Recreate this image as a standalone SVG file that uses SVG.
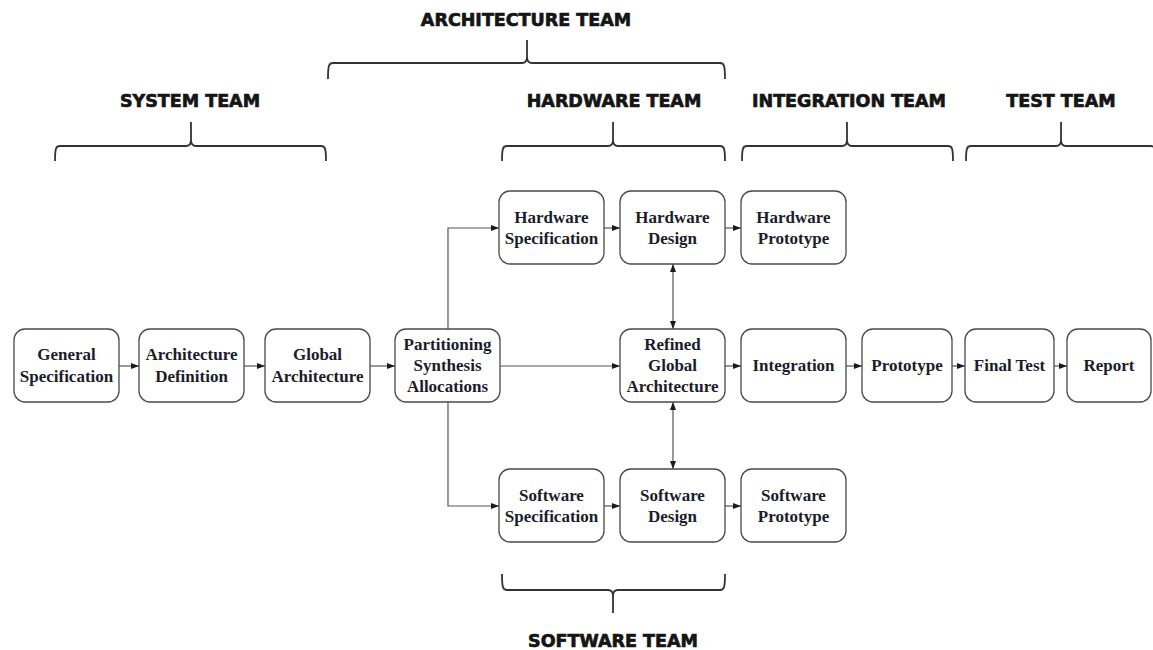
<svg xmlns="http://www.w3.org/2000/svg" width="1153" height="650" viewBox="0 0 1153 650">
  <style>
    .box { fill: #ffffff; stroke: #4a4a4a; stroke-width: 1.3; }
    .lbl { font-family: "Liberation Serif", "Times New Roman", serif; font-weight: bold; font-size: 17px; fill: #1c1c2a; text-anchor: middle; }
    .team { font-family: "DejaVu Sans", "Liberation Sans", sans-serif; font-weight: bold; font-size: 17.5px; fill: #151515; stroke: #151515; stroke-width: 0.7; text-anchor: middle; }
    .brace { fill: none; stroke: #333333; stroke-width: 1.8; stroke-linejoin: round; }
    .wire { fill: none; stroke: #555555; stroke-width: 1.2; }
  </style>
  <defs>
    <marker id="arrow" viewBox="0 0 8 6" refX="8" refY="3" markerWidth="8" markerHeight="6" markerUnits="userSpaceOnUse" orient="auto-start-reverse">
      <path d="M0,0 L8,3 L0,6 Z" fill="#1a1a1a"/>
    </marker>
  </defs>

  <rect width="1153" height="650" fill="#ffffff"/>

  <!-- team braces -->
  <g id="braces">
    <path class="brace" d="M328,79 C328,65 329,63 333,63 L522,63 C526,63 527,61 527,57 L527,40 M527,57 C527,61 528,63 532,63 L720,63 C724,63 725,65 725,79"/>
    <path class="brace" d="M55,161 C55,148 56,146 60,146 L186,146 C190,146 191,144 191,140 L191,122 M191,140 C191,144 192,146 196,146 L321,146 C325,146 326,148 326,161"/>
    <path class="brace" d="M502,161 C502,148 503,146 507,146 L608,146 C612,146 613,144 613,140 L613,122 M613,140 C613,144 614,146 618,146 L720,146 C724,146 725,148 725,161"/>
    <path class="brace" d="M742,161 C742,148 743,146 747,146 L842,146 C846,146 847,144 847,140 L847,122 M847,140 C847,144 848,146 852,146 L948,146 C952,146 953,148 953,161"/>
    <path class="brace" d="M966,161 C966,148 967,146 971,146 L1056,146 C1060,146 1061,144 1061,140 L1061,122 M1061,140 C1061,144 1062,146 1066,146 L1151,146 C1155,146 1156,148 1156,161"/>
    <path class="brace" d="M502,574 C502,588 503,590 507,590 L608,590 C612,590 613,592 613,596 L613,613 M613,596 C613,592 614,590 618,590 L720,590 C724,590 725,588 725,574"/>
  </g>

  <!-- team titles -->
  <g id="team-titles">
    <text class="team" x="526" y="26">ARCHITECTURE TEAM</text>
    <text class="team" x="190" y="107">SYSTEM TEAM</text>
    <text class="team" x="614" y="107">HARDWARE TEAM</text>
    <text class="team" x="849" y="107">INTEGRATION TEAM</text>
    <text class="team" x="1061" y="107">TEST TEAM</text>
    <text class="team" x="613" y="647">SOFTWARE TEAM</text>
  </g>

  <!-- connectors -->
  <g id="connectors">
    <path class="wire" d="M119,366 L139,366" marker-end="url(#arrow)"/>
    <path class="wire" d="M244,366 L265,366" marker-end="url(#arrow)"/>
    <path class="wire" d="M370,366 L395,366" marker-end="url(#arrow)"/>
    <path class="wire" d="M500,366 L620,366" marker-end="url(#arrow)"/>
    <path class="wire" d="M448,329 L448,228 L499,228" marker-end="url(#arrow)"/>
    <path class="wire" d="M448,402 L448,506 L499,506" marker-end="url(#arrow)"/>
    <path class="wire" d="M604,228 L620,228" marker-end="url(#arrow)"/>
    <path class="wire" d="M725,228 L741,228" marker-end="url(#arrow)"/>
    <path class="wire" d="M673,264 L673,329" marker-start="url(#arrow)" marker-end="url(#arrow)"/>
    <path class="wire" d="M673,402 L673,469" marker-start="url(#arrow)" marker-end="url(#arrow)"/>
    <path class="wire" d="M725,366 L741,366" marker-end="url(#arrow)"/>
    <path class="wire" d="M846,366 L862,366" marker-end="url(#arrow)"/>
    <path class="wire" d="M952,366 L965,366" marker-end="url(#arrow)"/>
    <path class="wire" d="M1054,366 L1067,366" marker-end="url(#arrow)"/>
    <path class="wire" d="M604,506 L620,506" marker-end="url(#arrow)"/>
    <path class="wire" d="M725,506 L741,506" marker-end="url(#arrow)"/>
  </g>

  <!-- process steps -->
  <g id="general-spec">
    <rect class="box" x="14" y="329" width="105" height="73" rx="11"/>
    <text class="lbl" x="66.5" y="360">General</text>
    <text class="lbl" x="66.5" y="382">Specification</text>
  </g>
  <g id="arch-definition">
    <rect class="box" x="139" y="329" width="105" height="73" rx="11"/>
    <text class="lbl" x="191.5" y="360">Architecture</text>
    <text class="lbl" x="191.5" y="382">Definition</text>
  </g>
  <g id="global-arch">
    <rect class="box" x="265" y="329" width="105" height="73" rx="11"/>
    <text class="lbl" x="317.5" y="360">Global</text>
    <text class="lbl" x="317.5" y="382">Architecture</text>
  </g>
  <g id="partitioning">
    <rect class="box" x="395" y="329" width="105" height="73" rx="11"/>
    <text class="lbl" x="447.5" y="350">Partitioning</text>
    <text class="lbl" x="447.5" y="371">Synthesis</text>
    <text class="lbl" x="447.5" y="392">Allocations</text>
  </g>
  <g id="hw-spec">
    <rect class="box" x="499" y="191" width="105" height="73" rx="11"/>
    <text class="lbl" x="551.5" y="223">Hardware</text>
    <text class="lbl" x="551.5" y="244">Specification</text>
  </g>
  <g id="hw-design">
    <rect class="box" x="620" y="191" width="105" height="73" rx="11"/>
    <text class="lbl" x="672.5" y="223">Hardware</text>
    <text class="lbl" x="672.5" y="244">Design</text>
  </g>
  <g id="hw-prototype">
    <rect class="box" x="741" y="191" width="105" height="73" rx="11"/>
    <text class="lbl" x="793.5" y="223">Hardware</text>
    <text class="lbl" x="793.5" y="244">Prototype</text>
  </g>
  <g id="refined-global-arch">
    <rect class="box" x="620" y="329" width="105" height="73" rx="11"/>
    <text class="lbl" x="672.5" y="350">Refined</text>
    <text class="lbl" x="672.5" y="371">Global</text>
    <text class="lbl" x="672.5" y="392">Architecture</text>
  </g>
  <g id="integration">
    <rect class="box" x="741" y="329" width="105" height="73" rx="11"/>
    <text class="lbl" x="793.5" y="371">Integration</text>
  </g>
  <g id="prototype">
    <rect class="box" x="862" y="329" width="90" height="73" rx="11"/>
    <text class="lbl" x="907" y="371">Prototype</text>
  </g>
  <g id="final-test">
    <rect class="box" x="965" y="329" width="89" height="73" rx="11"/>
    <text class="lbl" x="1009.5" y="371">Final Test</text>
  </g>
  <g id="report">
    <rect class="box" x="1067" y="329" width="84" height="73" rx="11"/>
    <text class="lbl" x="1109" y="371">Report</text>
  </g>
  <g id="sw-spec">
    <rect class="box" x="499" y="469" width="105" height="73" rx="11"/>
    <text class="lbl" x="551.5" y="501">Software</text>
    <text class="lbl" x="551.5" y="522">Specification</text>
  </g>
  <g id="sw-design">
    <rect class="box" x="620" y="469" width="105" height="73" rx="11"/>
    <text class="lbl" x="672.5" y="501">Software</text>
    <text class="lbl" x="672.5" y="522">Design</text>
  </g>
  <g id="sw-prototype">
    <rect class="box" x="741" y="469" width="105" height="73" rx="11"/>
    <text class="lbl" x="793.5" y="501">Software</text>
    <text class="lbl" x="793.5" y="522">Prototype</text>
  </g>
</svg>
